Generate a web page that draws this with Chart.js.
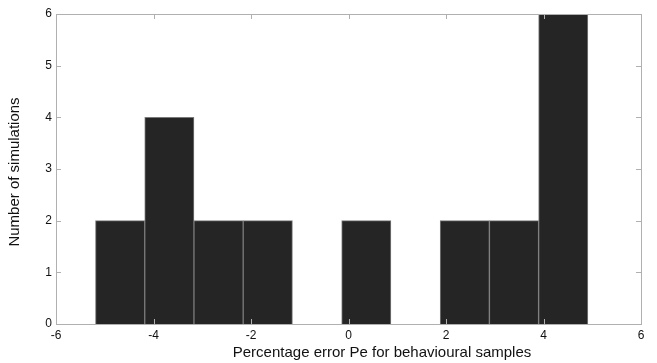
<!DOCTYPE html>
<html>
<head>
<meta charset="utf-8">
<script src="https://cdn.jsdelivr.net/npm/chart.js@4"></script>
<style>
  html, body { margin: 0; padding: 0; background: #fff; }
  #wrap { width: 657px; height: 363px; }
</style>
</head>
<body>
<div id="wrap"><canvas id="histo"></canvas></div>
<script>
// bin centres (bins ~1.01 wide, from -5.19 to 4.91)
const binCentres = [-4.685, -3.675, -2.665, -1.655, -0.645, 0.365, 1.375, 2.385, 3.395, 4.405];
const counts = [2, 4, 2, 2, 0, 2, 0, 2, 2, 6];
const xTicks = [-6, -4, -2, 0, 2, 4, 6];
const yTicks = [0, 1, 2, 3, 4, 5, 6];

const fontFamily = "'Liberation Sans', Arial, sans-serif";

// box around axes + inward ticks (matlab style)
const frame = {
  id: "frame",
  afterDraw(chart) {
    const { ctx, chartArea: a, scales } = chart;
    ctx.save();
    ctx.strokeStyle = "#b0b0b0";
    ctx.lineWidth = 1;
    ctx.strokeRect(a.left + 0.5, a.top + 0.5, a.right - a.left, a.bottom - a.top);
    ctx.beginPath();
    xTicks.forEach((v) => {
      const px = Math.round(scales.x.getPixelForValue(v)) + 0.5;
      ctx.moveTo(px, a.top); ctx.lineTo(px, a.top + 5);
      ctx.moveTo(px, a.bottom); ctx.lineTo(px, a.bottom - 5);
    });
    yTicks.forEach((v) => {
      const py = Math.round(scales.y.getPixelForValue(v)) + 0.5;
      ctx.moveTo(a.left, py); ctx.lineTo(a.left + 5, py);
      ctx.moveTo(a.right, py); ctx.lineTo(a.right - 5, py);
    });
    ctx.stroke();

    ctx.fillStyle = "#111";
    ctx.font = "15px " + fontFamily;
    ctx.textAlign = "center";
    ctx.textBaseline = "middle";
    ctx.fillText("Percentage error Pe for behavioural samples", 382, 353);
    ctx.translate(15, 172);
    ctx.rotate(-Math.PI / 2);
    ctx.fillText("Number of simulations", 0, 0);
    ctx.restore();
  },
};

new Chart(document.getElementById("histo"), {
  type: "bar",
  data: {
    datasets: [
      {
        data: binCentres.map((x, i) => ({ x: x, y: counts[i] })),
        backgroundColor: "#252525",
        borderColor: "#7a7a7a",
        borderWidth: 1,
        barPercentage: 1,
        categoryPercentage: 1,
      },
    ],
  },
  options: {
    responsive: true,
    maintainAspectRatio: false,
    animation: false,
    layout: { padding: { left: 0, right: 16, top: 14, bottom: 0 } },
    plugins: { legend: { display: false }, tooltip: { enabled: false } },
    scales: {
      x: {
        type: "linear",
        offset: false,
        min: -6,
        max: 6,
        afterBuildTicks: (s) => { s.ticks = xTicks.map((v) => ({ value: v })); },
        afterFit: (s) => { s.height = 39; },
        grid: { display: false, drawTicks: false, offset: false },
        border: { display: false },
        ticks: { color: "#111", padding: 4, font: { family: fontFamily, size: 12 }, maxRotation: 0 },
      },
      y: {
        min: 0,
        max: 6,
        afterBuildTicks: (s) => { s.ticks = yTicks.map((v) => ({ value: v })); },
        afterFit: (s) => { s.width = 56; },
        grid: { display: false, drawTicks: false },
        border: { display: false },
        ticks: { color: "#111", padding: 4, font: { family: fontFamily, size: 12 } },
      },
    },
  },
  plugins: [frame],
});
</script>
</body>
</html>
